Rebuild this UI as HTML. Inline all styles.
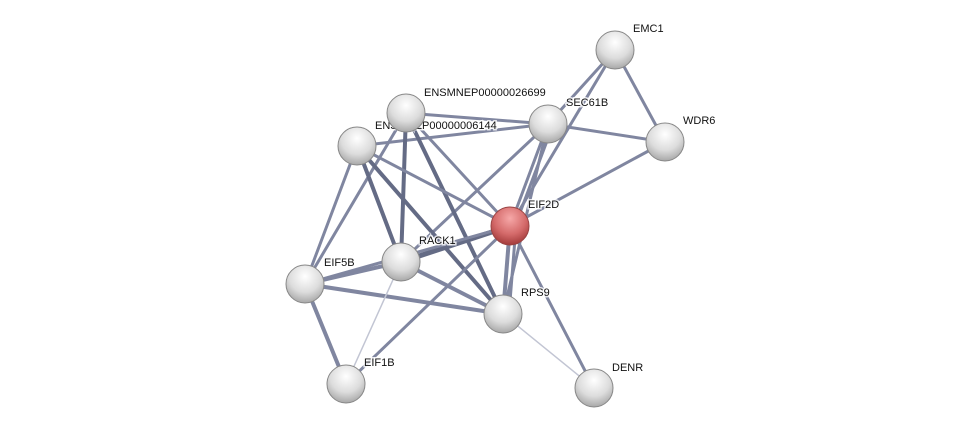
<!DOCTYPE html>
<html><head><style>
html,body{margin:0;padding:0;background:#fff;width:975px;height:434px;overflow:hidden}
text{font-family:"Liberation Sans",sans-serif;font-size:11px;fill:#111;stroke:#fff;stroke-width:3px;paint-order:stroke;stroke-opacity:0.8}
</style></head><body>
<svg width="975" height="434" viewBox="0 0 975 434">
<defs>
<radialGradient id="g" cx="0.5" cy="0.3" r="0.7">
<stop offset="0" stop-color="#ffffff"/><stop offset="0.6" stop-color="#dcdcdc"/><stop offset="1" stop-color="#a8a8a8"/></radialGradient>
<radialGradient id="r" cx="0.5" cy="0.3" r="0.7">
<stop offset="0" stop-color="#f6a8a8"/><stop offset="0.6" stop-color="#d46a6a"/><stop offset="1" stop-color="#a33a3a"/></radialGradient>
</defs>
<g stroke="#6a7290" stroke-width="3" stroke-linecap="round" opacity="0.85">
<line x1="615" y1="50" x2="548" y2="124"/>
<line x1="615" y1="50" x2="510" y2="226"/>
<line x1="615" y1="50" x2="665" y2="142"/>
<line x1="548" y1="124" x2="665" y2="142"/>
<line x1="510" y1="226" x2="665" y2="142"/>
<line x1="406" y1="113" x2="548" y2="124"/>
<line x1="357" y1="146" x2="548" y2="124"/>
<line x1="548" y1="124" x2="510" y2="226"/>
<line x1="553" y1="125" x2="515" y2="226"/>
<line x1="548" y1="124" x2="401" y2="262"/>
<line x1="548" y1="124" x2="503" y2="314"/>
<line x1="406" y1="113" x2="305" y2="284"/>
<line x1="406" y1="113" x2="401" y2="262" stroke="#4a5270" stroke-width="4"/>
<line x1="406" y1="113" x2="503" y2="314" stroke="#4a5270" stroke-width="4"/>
<line x1="406" y1="113" x2="510" y2="226"/>
<line x1="357" y1="146" x2="305" y2="284"/>
<line x1="357" y1="146" x2="401" y2="262" stroke="#4a5270" stroke-width="4"/>
<line x1="357" y1="146" x2="503" y2="314" stroke="#4a5270" stroke-width="4"/>
<line x1="357" y1="146" x2="510" y2="226"/>
<line x1="510" y1="226" x2="401" y2="262" stroke="#4a5270" stroke-width="5"/>
<line x1="510" y1="226" x2="503" y2="314" stroke-width="4"/>
<line x1="516" y1="226" x2="509" y2="314"/>
<line x1="510" y1="226" x2="594" y2="388"/>
<line x1="510" y1="226" x2="346" y2="384"/>
<line x1="510" y1="226" x2="305" y2="284"/>
<line x1="401" y1="262" x2="305" y2="284" stroke-width="4"/>
<line x1="401" y1="262" x2="503" y2="314" stroke-width="4"/>
<line x1="305" y1="284" x2="503" y2="314" stroke-width="4"/>
<line x1="305" y1="284" x2="346" y2="384" stroke-width="4"/>
<line x1="401" y1="262" x2="346" y2="384" stroke="#b8bccc" stroke-width="1.5"/>
<line x1="503" y1="314" x2="594" y2="388" stroke="#b8bccc" stroke-width="1.5"/>
</g>
<g stroke="#888" stroke-width="1">
<circle cx="615" cy="50" r="19" fill="url(#g)"/>
<circle cx="665" cy="142" r="19" fill="url(#g)"/>
<circle cx="548" cy="124" r="19" fill="url(#g)"/>
</g>
<text x="633" y="32">EMC1</text>
<text x="683" y="124">WDR6</text>
<text x="566" y="106">SEC61B</text>
<text x="375" y="129">ENSMNEP00000006144</text>
<g stroke="#888" stroke-width="1">
<circle cx="357" cy="146" r="19" fill="url(#g)"/>
<circle cx="406" cy="113" r="19" fill="url(#g)"/>
<circle cx="401" cy="262" r="19" fill="url(#g)"/>
<circle cx="305" cy="284" r="19" fill="url(#g)"/>
<circle cx="503" cy="314" r="19" fill="url(#g)"/>
<circle cx="346" cy="384" r="19" fill="url(#g)"/>
<circle cx="594" cy="388" r="19" fill="url(#g)"/>
<circle cx="510" cy="226" r="19" fill="url(#r)" stroke="#944"/>
</g>
<text x="424" y="96">ENSMNEP00000026699</text>
<text x="528" y="208">EIF2D</text>
<text x="419" y="244">RACK1</text>
<text x="324" y="266">EIF5B</text>
<text x="521" y="296">RPS9</text>
<text x="364" y="366">EIF1B</text>
<text x="612" y="371">DENR</text>
</svg>
</body></html>
